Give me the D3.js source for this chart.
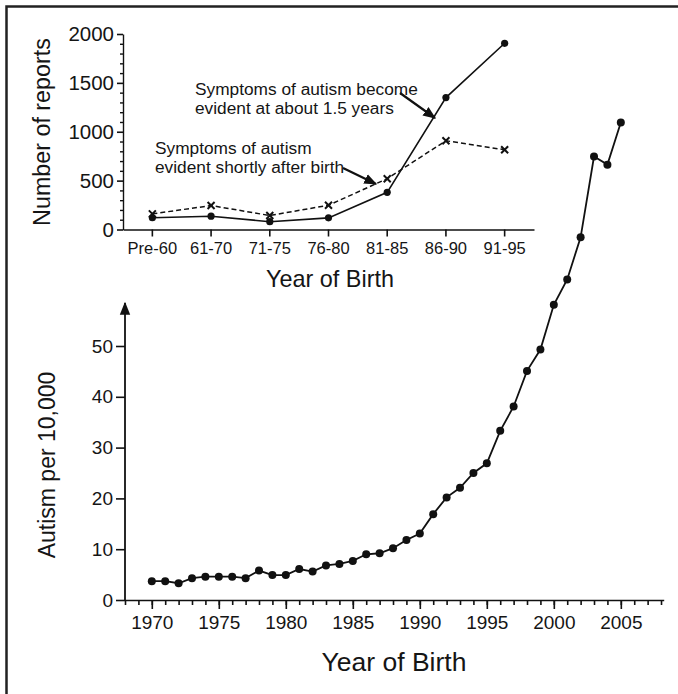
<!DOCTYPE html>
<html>
<head>
<meta charset="utf-8">
<script src="https://cdn.jsdelivr.net/npm/d3@7"></script>
<style>
    body { margin: 0; background: #fff; }
    svg { display: block; font-family: "Liberation Sans", Arial, sans-serif; }
    text { fill: #151515; }
</style>
</head>
<body>
<div id="chart"></div>
<script>
// Datos del recuadro (número de reportes por periodo de nacimiento)
const insetCats = ['Pre-60', '61-70', '71-75', '76-80', '81-85', '86-90', '91-95'];
const laterOnset = [120, 136, 80, 119, 380, 1350, 1905];   // síntomas ~1.5 años
const earlyOnset = [160, 245, 143, 248, 520, 908, 816];    // síntomas poco después del nacimiento
const insetYTicks = [0, 500, 1000, 1500, 2000];

// Datos principales (autismo por 10,000)
const years = [1970, 1971, 1972, 1973, 1974, 1975, 1976, 1977, 1978, 1979,
               1980, 1981, 1982, 1983, 1984, 1985, 1986, 1987, 1988, 1989,
               1990, 1991, 1992, 1993, 1994, 1995, 1996, 1997, 1998, 1999,
               2000, 2001, 2002, 2003, 2004, 2005];
const prevalence = [3.7, 3.7, 3.3, 4.3, 4.6, 4.6, 4.6, 4.3, 5.8, 4.9,
                    4.9, 6.1, 5.6, 6.8, 7.1, 7.7, 9.0, 9.2, 10.2, 11.8,
                    13.1, 16.9, 20.2, 22.1, 25.0, 26.9, 33.3, 38.1, 45.1, 49.3,
                    58.1, 63.1, 71.4, 87.3, 85.7, 94.0];
const mainYTicks = [0, 10, 20, 30, 40, 50];
const mainXTicks = [1970, 1975, 1980, 1985, 1990, 1995, 2000, 2005];
const minorYears = [1968, 1969, 1970, 1971, 1972, 1973, 1974, 1975, 1976, 1977,
                    1978, 1979, 1980, 1981, 1982, 1983, 1984, 1985, 1986, 1987,
                    1988, 1989, 1990, 1991, 1992, 1993, 1994, 1995, 1996, 1997,
                    1998, 1999, 2000, 2001, 2002, 2003, 2004, 2005, 2006, 2007, 2008];
const insetMinor = [100, 200, 300, 400, 600, 700, 800, 900, 1100, 1200, 1300, 1400,
                    1600, 1700, 1800, 1900];

const W = 678, H = 694;
const ink = '#111';

const svg = d3.select('#chart').append('svg')
    .attr('width', W)
    .attr('height', H);

// Marcadores de flecha
const defs = svg.append('defs');
function addMarker(id, size) {
    defs.append('marker')
        .attr('id', id)
        .attr('viewBox', '0 0 10 10')
        .attr('refX', 9).attr('refY', 5)
        .attr('markerWidth', size).attr('markerHeight', size)
        .attr('markerUnits', 'userSpaceOnUse')
        .attr('orient', 'auto')
        .append('path')
        .attr('d', 'M0,1 L10,5 L0,9 Z')
        .attr('fill', ink);
}
addMarker('arrow', 13);
addMarker('axisArrow', 13);

// Marco (solo arriba e izquierda, como en la imagen recortada)
svg.append('path')
    .attr('d', `M6.5,${H} L6.5,6.5 L${W},6.5`)
    .attr('fill', 'none')
    .attr('stroke', '#222')
    .attr('stroke-width', 2.5);

/* ---------- Gráfico principal ---------- */
const x = d3.scaleLinear().domain([1968, 2008.2]).range([125, 663.7]);
const y = d3.scaleLinear().domain([0, 50]).range([600, 346]);

// Eje X: ticks menores
svg.append('g')
    .attr('transform', `translate(0,${y(0)})`)
    .call(d3.axisBottom(x).tickValues(minorYears).tickSize(5).tickSizeOuter(0).tickFormat(''))
    .call(g => g.selectAll('line,path').attr('stroke', ink).attr('stroke-width', 1.6));

// Eje X: ticks mayores con etiquetas
svg.append('g')
    .attr('transform', `translate(0,${y(0)})`)
    .call(d3.axisBottom(x).tickValues(mainXTicks).tickSize(9).tickPadding(7).tickFormat(d3.format('d')))
    .call(g => g.select('.domain').remove())
    .call(g => g.selectAll('line').attr('stroke', ink).attr('stroke-width', 1.6))
    .call(g => g.selectAll('text').attr('font-size', 19).attr('fill', '#151515'));

// Eje Y con flecha
svg.append('g')
    .attr('transform', `translate(${x(1968)},0)`)
    .call(d3.axisLeft(y).tickValues(mainYTicks).tickSize(9).tickPadding(3))
    .call(g => g.select('.domain').remove())
    .call(g => g.selectAll('line').attr('stroke', ink).attr('stroke-width', 1.6))
    .call(g => g.selectAll('text').attr('font-size', 19).attr('fill', '#151515'));

svg.append('line')
    .attr('x1', x(1968)).attr('x2', x(1968))
    .attr('y1', y(0) + 1).attr('y2', 303)
    .attr('stroke', ink)
    .attr('stroke-width', 1.8)
    .attr('marker-end', 'url(#axisArrow)');

const mainLine = d3.line()
    .x((d, i) => x(years[i]))
    .y(d => y(d));

svg.append('path')
    .datum(prevalence)
    .attr('fill', 'none')
    .attr('stroke', ink)
    .attr('stroke-width', 1.8)
    .attr('d', mainLine);

svg.append('g').selectAll('circle')
    .data(prevalence)
    .enter().append('circle')
    .attr('cx', (d, i) => x(years[i]))
    .attr('cy', d => y(d))
    .attr('r', 4)
    .attr('fill', ink);

svg.append('text')
    .attr('x', 394).attr('y', 671)
    .attr('text-anchor', 'middle')
    .attr('font-size', 26.5)
    .text('Year of Birth');

svg.append('text')
    .attr('transform', 'translate(55,465) rotate(-90)')
    .attr('text-anchor', 'middle')
    .attr('font-size', 23)
    .text('Autism per 10,000');

/* ---------- Recuadro ---------- */
const ix = d3.scaleBand().domain(insetCats).range([123, 534]);
const iy = d3.scaleLinear().domain([0, 2000]).range([229.5, 34]);
const cx = c => ix(c) + ix.bandwidth() / 2;

svg.append('g')
    .attr('transform', `translate(0,${iy(0)})`)
    .call(d3.axisBottom(ix).tickSize(7).tickSizeOuter(0).tickPadding(6))
    .call(g => g.selectAll('line,path').attr('stroke', ink).attr('stroke-width', 1.6))
    .call(g => g.selectAll('text').attr('font-size', 16.5).attr('fill', '#151515'));

svg.append('g')
    .attr('transform', `translate(123,0)`)
    .call(d3.axisLeft(iy).tickValues(insetMinor).tickSize(3).tickSizeOuter(0).tickFormat(''))
    .call(g => g.selectAll('line,path').attr('stroke', ink).attr('stroke-width', 1.4));

svg.append('g')
    .attr('transform', `translate(123,0)`)
    .call(d3.axisLeft(iy).tickValues(insetYTicks).tickSize(6).tickPadding(3).tickFormat(d3.format('d')))
    .call(g => g.select('.domain').remove())
    .call(g => g.selectAll('line').attr('stroke', ink).attr('stroke-width', 1.6))
    .call(g => g.selectAll('text').attr('font-size', 20.5).attr('fill', '#151515'));

const insetLine = d3.line()
    .x((d, i) => cx(insetCats[i]))
    .y(d => iy(d));

svg.append('path')
    .datum(earlyOnset)
    .attr('fill', 'none')
    .attr('stroke', ink)
    .attr('stroke-width', 1.5)
    .attr('stroke-dasharray', '5,3')
    .attr('d', insetLine);

svg.append('path')
    .datum(laterOnset)
    .attr('fill', 'none')
    .attr('stroke', ink)
    .attr('stroke-width', 1.6)
    .attr('d', insetLine);

svg.append('g').selectAll('circle')
    .data(laterOnset)
    .enter().append('circle')
    .attr('cx', (d, i) => cx(insetCats[i]))
    .attr('cy', d => iy(d))
    .attr('r', 3.6)
    .attr('fill', ink);

svg.append('g').selectAll('path')
    .data(earlyOnset)
    .enter().append('path')
    .attr('transform', (d, i) => `translate(${cx(insetCats[i])},${iy(d)})`)
    .attr('d', 'M-3.5,-3.5 L3.5,3.5 M-3.5,3.5 L3.5,-3.5')
    .attr('stroke', ink)
    .attr('stroke-width', 2);

svg.append('text')
    .attr('x', 330).attr('y', 287)
    .attr('text-anchor', 'middle')
    .attr('font-size', 23.4)
    .text('Year of Birth');

svg.append('text')
    .attr('transform', 'translate(50,132) rotate(-90)')
    .attr('text-anchor', 'middle')
    .attr('font-size', 23.3)
    .text('Number of reports');

// Anotaciones
const notes = [
    { lines: ['Symptoms of autism become', 'evident at about 1.5 years'], x: 195, y: 94.5,
      arrow: [400, 93, 435, 118] },
    { lines: ['Symptoms of autism', 'evident shortly after birth'], x: 155, y: 154,
      arrow: [343, 168, 376, 184] }
];

notes.forEach(n => {
    const t = svg.append('text')
        .attr('x', n.x).attr('y', n.y)
        .attr('font-size', 17.3);
    n.lines.forEach((l, i) => {
        t.append('tspan').attr('x', n.x).attr('dy', i === 0 ? 0 : 19.3).text(l);
    });
    svg.append('line')
        .attr('x1', n.arrow[0]).attr('y1', n.arrow[1])
        .attr('x2', n.arrow[2]).attr('y2', n.arrow[3])
        .attr('stroke', ink)
        .attr('stroke-width', 2.2)
        .attr('marker-end', 'url(#arrow)');
});
</script>
</body>
</html>
